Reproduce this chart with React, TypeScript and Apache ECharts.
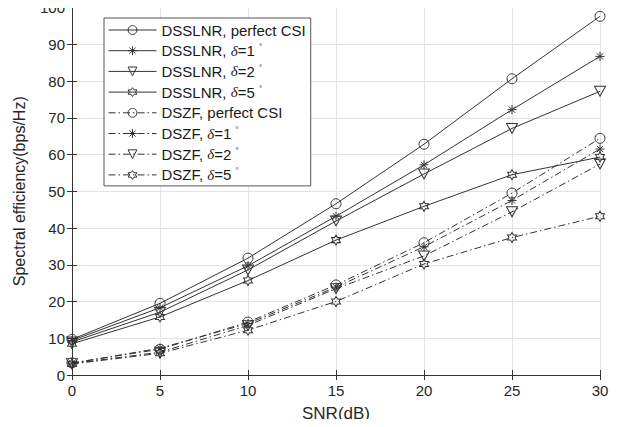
import React, { useEffect, useRef } from "react";
import * as echarts from "echarts";

const snr = [0, 5, 10, 15, 20, 25, 30];
const xTicks = [0, 5, 10, 15, 20, 25, 30];
const yTicks = [0, 10, 20, 30, 40, 50, 60, 70, 80, 90, 100];

const dsslnrPerfect = [9.7, 19.5, 31.8, 46.6, 62.8, 80.6, 97.6];
const dsslnrD1 = [9.4, 18.3, 29.7, 43.2, 57.2, 72.2, 86.7];
const dsslnrD2 = [9.0, 17.1, 28.6, 41.9, 54.7, 67.1, 77.2];
const dsslnrD5 = [8.5, 15.8, 25.7, 36.7, 45.9, 54.5, 59.3];
const dszfPerfect = [3.3, 7.0, 14.4, 24.5, 36.0, 49.5, 64.4];
const dszfD1 = [3.2, 7.3, 14.0, 23.9, 34.9, 47.5, 61.5];
const dszfD2 = [3.1, 6.2, 13.5, 23.5, 32.4, 44.4, 57.4];
const dszfD5 = [3.0, 5.9, 12.2, 20.0, 30.2, 37.4, 43.2];

const seriesNames = [
  "DSSLNR, perfect CSI",
  "DSSLNR, δ=1°",
  "DSSLNR, δ=2°",
  "DSSLNR, δ=5°",
  "DSZF, perfect CSI",
  "DSZF, δ=1°",
  "DSZF, δ=2°",
  "DSZF, δ=5°",
];

const asterisk =
  "path://M0,-1L0,1M-1,0L1,0M-0.7,-0.7L0.7,0.7M-0.7,0.7L0.7,-0.7";
const triDown = "path://M-1,-0.8L1,-0.8L0,0.95Z";
const hexagram =
  "path://M0,-1L0.289,-0.5L0.866,-0.5L0.577,0L0.866,0.5L0.289,0.5L0,1L-0.289,0.5L-0.866,0.5L-0.577,0L-0.866,-0.5L-0.289,-0.5Z";

const INK = "#333333";
const FONT = "'Liberation Sans', Arial, Helvetica, sans-serif";

export default function App() {
  const ref = useRef<HTMLDivElement>(null);
  useEffect(() => {
    if (!ref.current) return;
    const chart = echarts.init(ref.current, undefined, { renderer: "svg" });
    const values = [
      dsslnrPerfect,
      dsslnrD1,
      dsslnrD2,
      dsslnrD5,
      dszfPerfect,
      dszfD1,
      dszfD2,
      dszfD5,
    ];
    const symbols = ["circle", asterisk, triDown, hexagram];
    const sizes: any[] = [10, 9, [11, 10], [9, 10]];
    const series = values.map((vals, i) => ({
      name: seriesNames[i],
      type: "line",
      data: snr.map((x, j) => [x, vals[j]]),
      symbol: symbols[i % 4],
      symbolSize: sizes[i % 4],
      showAllSymbol: true,
      lineStyle: {
        color: INK,
        width: 1,
        type: i < 4 ? "solid" : [7, 3, 1.5, 3],
      },
      itemStyle: {
        color: "none",
        borderColor: INK,
        borderWidth: 1,
      },
      emphasis: { disabled: true },
      z: 3,
    }));
    const fmt = (name: string) => {
      const m = name.match(/^(.*), δ=(\d)°$/);
      if (m) return `${m[1]}, {i|δ}=${m[2]} {s|°}`;
      return name;
    };
    chart.setOption({
      animation: false,
      textStyle: { fontFamily: FONT },
      grid: { left: 72, right: 21, top: 5, bottom: 52 },
      legend: {
        data: seriesNames,
        orient: "vertical",
        left: 104,
        top: 18,
        itemWidth: 48,
        itemHeight: 11,
        itemGap: 4.7,
        padding: [4, 5, 3, 4],
        backgroundColor: "#ffffff",
        borderColor: "#555555",
        borderWidth: 1,
        formatter: fmt,
        lineStyle: { width: 1 },
        itemStyle: { borderWidth: 1 },
        textStyle: {
          fontFamily: FONT,
          fontSize: 15,
          lineHeight: 16,
          color: "#1a1a1a",
          padding: [0, 0, 0, 0],
          rich: {
            i: {
              fontSize: 15,
              lineHeight: 16,
              fontStyle: "italic",
              fontFamily: "'Liberation Serif', 'Times New Roman', serif",
              color: "#1a1a1a",
            },
            s: {
              fontSize: 8,
              lineHeight: 16,
              verticalAlign: "top",
              padding: [0, 0, 6, 0],
              color: "#1a1a1a",
            },
          },
        },
      },
      xAxis: [
        {
          type: "value",
          min: 0,
          max: 30,
          interval: 5,
          name: "SNR(dB)",
          nameLocation: "middle",
          nameGap: 30,
          nameTextStyle: { fontSize: 17, color: "#262626", fontFamily: FONT },
          axisLine: { lineStyle: { color: INK, width: 1 } },
          axisTick: { inside: true, length: 5, lineStyle: { color: INK } },
          axisLabel: {
            fontSize: 15,
            fontFamily: FONT,
            color: "#262626",
            margin: 8,
            formatter: (v: number) => (xTicks.includes(v) ? String(v) : ""),
          },
          splitLine: { show: true, lineStyle: { color: "#e3e3e3", width: 1 } },
        },
        {
          type: "value",
          position: "top",
          min: 0,
          max: 30,
          interval: 5,
          axisLine: { show: true, lineStyle: { color: INK, width: 1 } },
          axisTick: { show: true, inside: true, length: 5, lineStyle: { color: INK } },
          axisLabel: { show: false },
          splitLine: { show: false },
        },
      ],
      yAxis: [
        {
          type: "value",
          min: 0,
          max: 100,
          interval: 10,
          name: "Spectral efficiency(bps/Hz)",
          nameLocation: "middle",
          nameGap: 45,
          nameTextStyle: { fontSize: 16, color: "#262626", fontFamily: FONT },
          axisLine: { show: true, lineStyle: { color: INK, width: 1 } },
          axisTick: { show: true, inside: true, length: 5, lineStyle: { color: INK } },
          axisLabel: {
            fontSize: 15,
            fontFamily: FONT,
            color: "#262626",
            margin: 7,
            formatter: (v: number) => (yTicks.includes(v) ? String(v) : ""),
          },
          splitLine: { show: true, lineStyle: { color: "#e3e3e3", width: 1 } },
        },
        {
          type: "value",
          position: "right",
          min: 0,
          max: 100,
          interval: 10,
          axisLine: { show: true, lineStyle: { color: INK, width: 1 } },
          axisTick: { show: true, inside: true, length: 5, lineStyle: { color: INK } },
          axisLabel: { show: false },
          splitLine: { show: false },
        },
      ],
      series,
    });
    return () => chart.dispose();
  }, []);
  return <div ref={ref} style={{ width: 621, height: 427, margin: -8 }} />;
}
